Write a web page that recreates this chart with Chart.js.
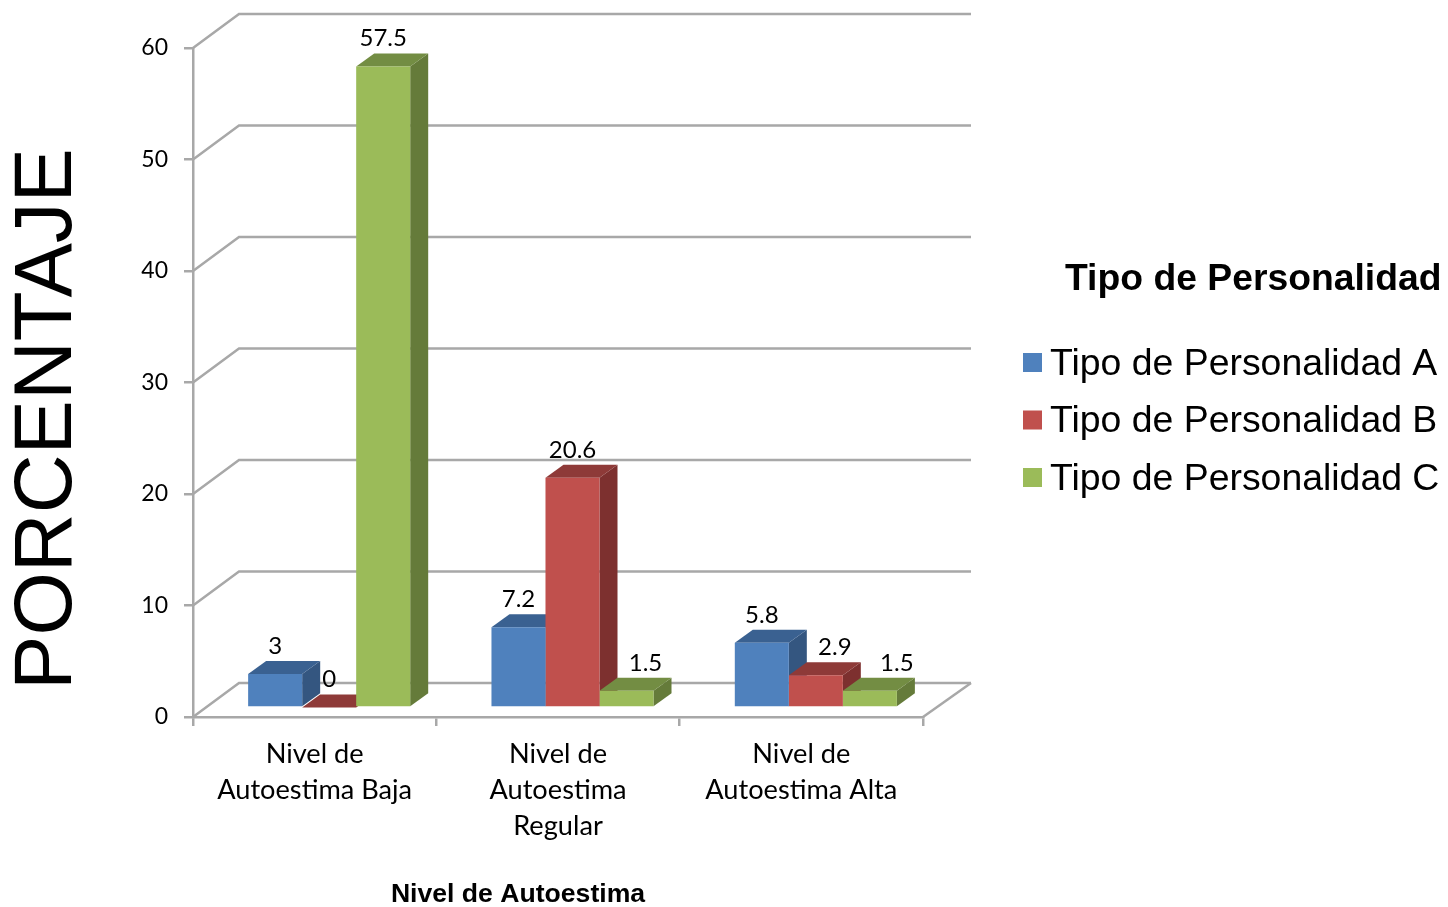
<!DOCTYPE html>
<html>
<head>
<meta charset="utf-8">
<title>Tipo de Personalidad</title>
<script src="https://cdn.jsdelivr.net/npm/chart.js@4"></script>
<style>
    html, body { margin: 0; padding: 0; background: #fff; overflow: hidden; }
    canvas { display: block; }
</style>
</head>
<body>
<canvas id="chart" width="1448" height="907"></canvas>
<script>
// Data
const categories = [['Nivel de', 'Autoestima Baja'], ['Nivel de', 'Autoestima', 'Regular'], ['Nivel de', 'Autoestima Alta']];
const seriesNames = ['Tipo de Personalidad A', 'Tipo de Personalidad B', 'Tipo de Personalidad C'];
const valuesA = [3, 7.2, 5.8];
const valuesB = [0, 20.6, 2.9];
const valuesC = [57.5, 1.5, 1.5];
const legendTitle = 'Tipo de Personalidad';
const xTitle = 'Nivel de Autoestima';
const yTitle = 'PORCENTAJE';

const frontColors = ['#4f81bd', '#c0504d', '#9bbb59'];
const topColors = ['#3a6191', '#8e3a38', '#738d43'];
const sideColors = ['#345680', '#7d302f', '#657b3a'];

const gridColor = '#a8a8a8';
const labelFont = '24px Lato';

// Fake 3D: wall depth and bar depth, in pixels
const wallDx = 46, wallDy = 34;
const barDx = 18, barDy = 13;
const barShiftX = 14.5, barShiftY = 9.5;

// labels that were dragged sideways in the original, dataset:category -> px
const labelNudge = { '2:1': 19, '1:2': 19, '2:2': 27 };

function line(ctx, points) {
    ctx.beginPath();
    points.forEach((p, i) => i ? ctx.lineTo(p[0], p[1]) : ctx.moveTo(p[0], p[1]));
    ctx.stroke();
}

function poly(ctx, points, color) {
    ctx.fillStyle = color;
    ctx.beginPath();
    points.forEach((p, i) => i ? ctx.lineTo(p[0], p[1]) : ctx.moveTo(p[0], p[1]));
    ctx.closePath();
    ctx.fill();
}

const walls3d = {
    id: 'walls3d',
    beforeDatasetsDraw(chart) {
        const ctx = chart.ctx;
        const area = chart.chartArea;
        const yScale = chart.scales.y;
        ctx.save();
        ctx.strokeStyle = gridColor;
        ctx.lineWidth = 2.5;
        yScale.ticks.forEach((t, i) => {
            const y = yScale.getPixelForTick(i);
            line(ctx, [[area.left, y], [area.left + wallDx, y - wallDy], [area.right + wallDx + 2, y - wallDy]]);
        });
        // right edge of the floor
        line(ctx, [[area.right, area.bottom], [area.right + wallDx + 2, area.bottom - wallDy]]);
        ctx.restore();
    }
};

const bars3d = {
    id: 'bars3d',
    beforeDatasetsDraw(chart) {
        const ctx = chart.ctx;
        ctx.save();
        ctx.translate(barShiftX, -barShiftY);
        // side and top faces go first, the library paints the front faces over them
        chart.data.datasets.forEach((ds, d) => {
            chart.getDatasetMeta(d).data.forEach(bar => {
                const p = bar.getProps(['x', 'y', 'base', 'width'], true);
                const l = p.x - p.width / 2, r = p.x + p.width / 2;
                poly(ctx, [[r, p.y], [r + barDx, p.y - barDy], [r + barDx, p.base - barDy], [r, p.base]], sideColors[d]);
                poly(ctx, [[l, p.y], [l + barDx, p.y - barDy], [r + barDx, p.y - barDy], [r, p.y]], topColors[d]);
            });
        });
    },
    afterDatasetsDraw(chart) {
        const ctx = chart.ctx;
        ctx.restore();
        // value labels
        ctx.save();
        ctx.fillStyle = '#000';
        ctx.font = labelFont;
        ctx.textAlign = 'center';
        ctx.textBaseline = 'middle';
        chart.data.datasets.forEach((ds, d) => {
            chart.getDatasetMeta(d).data.forEach((bar, i) => {
                const p = bar.getProps(['x', 'y'], true);
                const nudge = labelNudge[d + ':' + i] || 0;
                ctx.fillText(String(ds.data[i]), p.x + barShiftX + nudge, p.y - barShiftY - 28);
            });
        });
        ctx.restore();
    }
};

const titlesAndLegend = {
    id: 'titlesAndLegend',
    afterDraw(chart) {
        const ctx = chart.ctx;
        ctx.save();
        ctx.fillStyle = '#000';
        ctx.textBaseline = 'middle';

        ctx.textAlign = 'center';
        ctx.font = 'bold 26.6px "Liberation Sans"';
        ctx.fillText(xTitle, 518, 895);

        ctx.save();
        ctx.translate(49, 419);
        ctx.rotate(-Math.PI / 2);
        ctx.font = '81.5px "Liberation Sans"';
        ctx.fillText(yTitle, 0, 0);
        ctx.restore();

        ctx.textAlign = 'left';
        ctx.font = 'bold 37.3px "Liberation Sans"';
        ctx.fillText(legendTitle, 1065, 280);

        ctx.font = '37.4px "Liberation Sans"';
        chart.data.datasets.forEach((ds, d) => {
            const y = 362.5 + d * 57.5;
            ctx.fillStyle = frontColors[d];
            ctx.fillRect(1023, y - 9.5, 19, 19);
            ctx.fillStyle = '#000';
            ctx.fillText(ds.label, 1050, y + 2);
        });
        ctx.restore();
    }
};

new Chart(document.getElementById('chart'), {
    type: 'bar',
    data: {
        labels: categories,
        datasets: [
            { label: seriesNames[0], data: valuesA, backgroundColor: frontColors[0] },
            { label: seriesNames[1], data: valuesB, backgroundColor: frontColors[1] },
            { label: seriesNames[2], data: valuesC, backgroundColor: frontColors[2] }
        ]
    },
    options: {
        responsive: false,
        animation: false,
        layout: { padding: { top: 48, right: 525, left: 0, bottom: 0 } },
        datasets: { bar: { barPercentage: 1, categoryPercentage: 0.666 } },
        plugins: { legend: { display: false }, tooltip: { enabled: false }, title: { display: false } },
        scales: {
            x: {
                afterFit(scale) { scale.height = 190; },
                grid: { drawOnChartArea: false, color: gridColor, lineWidth: 2.5, tickLength: 9 },
                border: { color: gridColor, width: 2.5 },
                ticks: {
                    color: '#000',
                    font: { family: 'Lato', size: 27.2, lineHeight: 1.324 },
                    padding: 10,
                    maxRotation: 0,
                    autoSkip: false
                }
            },
            y: {
                min: 0,
                max: 60,
                afterFit(scale) { scale.width = 193; },
                grid: { drawOnChartArea: false, color: gridColor, lineWidth: 2.5, tickLength: 9 },
                border: { color: gridColor, width: 2.5 },
                ticks: {
                    color: '#000',
                    font: { family: 'Lato', size: 23 },
                    stepSize: 10,
                    padding: 16
                }
            }
        }
    },
    plugins: [walls3d, bars3d, titlesAndLegend]
});
</script>
</body>
</html>
